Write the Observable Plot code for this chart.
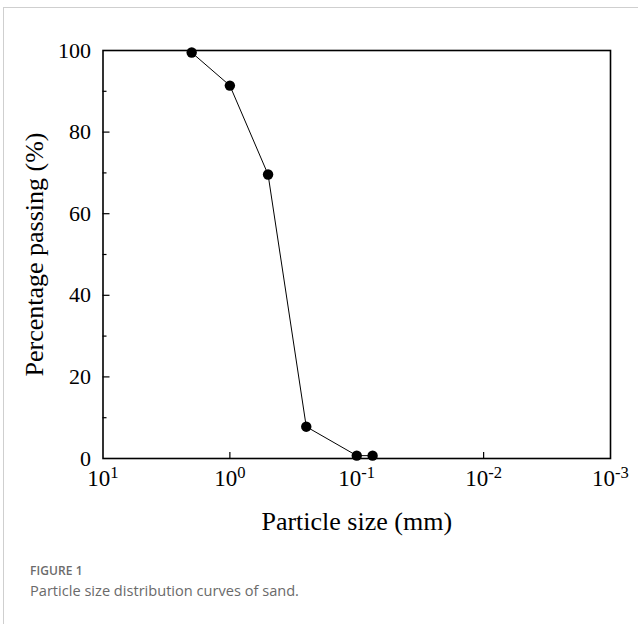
<!DOCTYPE html>
<html>
<head>
<meta charset="utf-8">
<script src="https://cdn.jsdelivr.net/npm/d3@7"></script>
<script src="https://cdn.jsdelivr.net/npm/@observablehq/plot@0.6"></script>
<style>
  html, body { margin: 0; padding: 0; background: #fff; width: 638px; height: 624px; overflow: hidden; }
  #card { position: absolute; left: 3px; top: 7px; width: 700px; height: 700px;
          border-left: 1px solid #cfcfcf; border-top: 1px solid #cfcfcf; }
  #chart { position: absolute; left: 0; top: 0; }
  #fig { position: absolute; left: 30px; top: 562px; font-family: "Open Sans", sans-serif;
         font-size: 12px; font-weight: 600; color: #6b6b6b; letter-spacing: 0.1px; }
  #cap { position: absolute; left: 30px; top: 580px; font-family: "Open Sans", sans-serif;
         font-size: 14.6px; font-weight: 400; color: #6a6a6a; }
</style>
</head>
<body>
<div id="card"></div>
<div id="chart"></div>
<div id="fig">FIGURE 1</div>
<div id="cap">Particle size distribution curves of sand.</div>
<script>
// Data
const sizes = [2, 1, 0.5, 0.25, 0.1, 0.075];          // particle size (mm)
const passing = [99.5, 91.4, 69.6, 7.8, 0.7, 0.7];    // percentage passing (%)
const xTicks = [10, 1, 0.1, 0.01, 0.001];
const xTickLabels = ["1", "0", "-1", "-2", "-3"];     // exponents of 10
const yTicks = [0, 20, 40, 60, 80, 100];
const yMinorTicks = [10, 30, 50, 70, 90];
const xLabel = "Particle size (mm)";
const yLabel = "Percentage passing (%)";

const data = sizes.map((s, i) => ({size: s, pass: passing[i]}));

const W = 638, H = 540, mL = 102.5, mR = 28, mT = 50, mB = 82;
const plotW = W - mL - mR, plotH = H - mT - mB;

const chart = Plot.plot({
  width: W, height: H,
  marginLeft: mL, marginRight: mR, marginTop: mT, marginBottom: mB,
  style: {fontFamily: "'Liberation Serif', 'Times New Roman', serif", color: "#000", background: "transparent"},
  x: {type: "log", domain: [10, 0.001]},
  y: {domain: [0, 100]},
  marks: [
    Plot.axisX({ticks: xTicks, tickSize: 0, tickPadding: 11, fontSize: 23,
      tickFormat: d => "10^" + xTickLabels[xTicks.indexOf(d)], label: null}),
    Plot.axisY({ticks: yTicks, tickSize: 0, tickPadding: 12, fontSize: 22, label: null}),
    Plot.tickX(xTicks.slice(1, -1), {x: d => d, insetTop: plotH - 6, stroke: "#000", strokeWidth: 1.2}),
    Plot.tickY(yTicks.slice(1, -1), {y: d => d, insetRight: plotW - 7, stroke: "#000", strokeWidth: 1.2}),
    Plot.tickY(yMinorTicks, {y: d => d, insetRight: plotW - 4, stroke: "#000", strokeWidth: 1.2}),
    Plot.frame({stroke: "#000", strokeWidth: 1.6}),
    Plot.line(data, {x: "size", y: "pass", stroke: "#000", strokeWidth: 1}),
    Plot.dot(data, {x: "size", y: "pass", r: 5.2, fill: "#000", stroke: "none"}),
    Plot.text([xLabel], {text: d => d, frameAnchor: "bottom", dy: 63, fontSize: 26, lineAnchor: "middle", textAnchor: "middle", fill: "#000"}),
    Plot.text([yLabel], {text: d => d, frameAnchor: "left", dx: -68, rotate: -90, fontSize: 26, lineAnchor: "middle", textAnchor: "middle", fill: "#000"})
  ]
});

document.getElementById("chart").appendChild(chart);

// Enforce tick label sizes
d3.select(chart).selectAll('g[aria-label="x-axis tick label"] text').style("font-size", "23px");
d3.select(chart).selectAll('g[aria-label="y-axis tick label"] text').style("font-size", "22px");

// Render x tick labels as 10 with superscript exponent
d3.select(chart).selectAll('g[aria-label="x-axis tick label"] text').each(function() {
  const t = d3.select(this);
  const s = t.text();
  if (s.startsWith("10^")) {
    const exp = s.slice(3);
    t.text("10");
    t.append("tspan").attr("dy", "-0.45em").style("font-size", "0.72em").text(exp);
  }
});
</script>
</body>
</html>
